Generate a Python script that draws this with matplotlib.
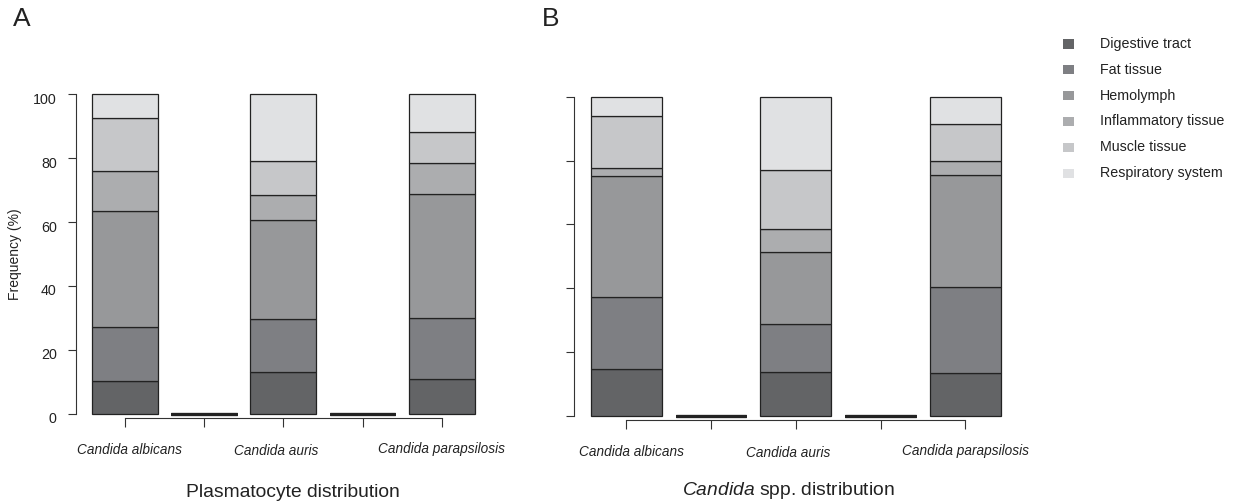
import matplotlib
matplotlib.use("Agg")
import matplotlib.pyplot as plt
from matplotlib.patches import Rectangle
from matplotlib.transforms import ScaledTranslation

plt.rcParams['font.family'] = ['Liberation Sans', 'DejaVu Sans']
plt.rcParams['mathtext.fontset'] = 'custom'
plt.rcParams['mathtext.rm'] = 'Liberation Sans'
plt.rcParams['mathtext.it'] = 'Liberation Sans:italic'

# five bar slots per panel, the 2nd and 4th are empty spacers
species = ["Candida albicans", "", "Candida auris", "", "Candida parapsilosis"]
tissues = ["Digestive tract", "Fat tissue", "Hemolymph",
           "Inflammatory tissue", "Muscle tissue", "Respiratory system"]
colors = ["#636466", "#7e7f83", "#97989a", "#acadaf", "#c6c7c9", "#e0e1e3"]

# panel A: plasmatocyte distribution (%), one list per tissue
plasma = {
    "Digestive tract":     [10.2, 0, 12.9, 0, 10.8],
    "Fat tissue":          [17.1, 0, 16.6, 0, 19.1],
    "Hemolymph":           [36.3, 0, 31.3, 0, 39.0],
    "Inflammatory tissue": [12.3, 0, 7.6, 0, 9.5],
    "Muscle tissue":       [16.6, 0, 10.6, 0, 9.9],
    "Respiratory system":  [7.5, 0, 21.0, 0, 11.7],
}
# panel B: Candida spp. distribution (%)
candida = {
    "Digestive tract":     [14.6, 0, 13.8, 0, 13.5],
    "Fat tissue":          [22.6, 0, 15.1, 0, 27.0],
    "Hemolymph":           [37.8, 0, 22.5, 0, 34.8],
    "Inflammatory tissue": [2.5, 0, 7.0, 0, 4.7],
    "Muscle tissue":       [16.6, 0, 18.6, 0, 11.4],
    "Respiratory system":  [5.9, 0, 23.0, 0, 8.6],
}

W, H = 1233, 504
fig = plt.figure(figsize=(W / 100, H / 100), dpi=100)


def px_axes(l, r, b, t):
    return fig.add_axes([l / W, 1 - b / H, (r - l) / W, (b - t) / H])


axA = px_axes(76, 480, 413.7, 94.3)
axB = px_axes(574.3, 1006, 415.7, 96.7)

# label nudges (x in data units, y in pixels below the axis)
lab_dx = [0.06, 0, -0.09, 0, 0.0]
lab_dy = [36, 0, 37, 0, 35]


def draw(ax, data, widthfrac, ticklabels):
    x = list(range(len(species)))
    totals = [sum(data[t][i] for t in tissues) for i in x]
    # empty slots show up as a heavy line on the baseline
    lws = [2.2 if tot == 0 else 0.9 for tot in totals]
    bottom = [0.0] * len(species)
    for t, c in zip(tissues, colors):
        ax.bar(x, data[t], bottom=bottom, width=widthfrac, color=c,
               edgecolor="#222222", linewidth=lws, clip_on=False)
        bottom = [b + v for b, v in zip(bottom, data[t])]
    ax.set_xlim(-0.614, 4.48)
    ax.set_ylim(0, 100)
    for s in ["top", "right"]:
        ax.spines[s].set_visible(False)
    ax.spines["left"].set_bounds(0, 100)
    ax.spines["bottom"].set_bounds(0, 4)
    ax.spines["bottom"].set_position(("outward", 3))
    for s in ["left", "bottom"]:
        ax.spines[s].set_color("#333333")
        ax.spines[s].set_linewidth(0.8)
    ax.set_xticks(x)
    ax.set_xticklabels([])
    ax.set_yticks([0, 20, 40, 60, 80, 100])
    ax.tick_params(axis="y", length=5.8, width=0.8, color="#333333",
                   labelsize=10.3, pad=8, labelcolor="#222222")
    ax.tick_params(axis="x", length=6.5, width=0.8, color="#333333")
    if not ticklabels:
        ax.set_yticklabels([])
    else:
        for lab in ax.get_yticklabels():
            lab.set_transform(lab.get_transform() +
                              ScaledTranslation(0, -0.04, fig.dpi_scale_trans))
    for i, name in enumerate(species):
        if name:
            ax.annotate(name, xy=(i + lab_dx[i], 0), xycoords="data",
                        xytext=(0, -lab_dy[i] * 0.72), textcoords="offset points",
                        ha="center", va="center", style="italic",
                        fontsize=9.8, color="#222222")


draw(axA, plasma, 0.828, True)
draw(axB, candida, 0.834, False)

axA.set_ylabel("Frequency (%)", fontsize=10, color="#222222", labelpad=8)

fig.text(293 / W, 1 - 492.5 / H, "Plasmatocyte distribution",
         ha="center", va="center", fontsize=13.9, color="#222222")
fig.text(788 / W, 1 - 490.5 / H, r"$\it{Candida}$ spp. distribution",
         ha="center", va="center", fontsize=13.9, color="#222222")

fig.text(13 / W, 1 - 19 / H, "A", ha="left", va="center", fontsize=19,
         color="#222222")
fig.text(542 / W, 1 - 19 / H, "B", ha="left", va="center", fontsize=19,
         color="#222222")

# legend as a column of square swatches
for k, (t, c) in enumerate(zip(tissues, colors)):
    yc = 44 + k * 25.8
    fig.patches.append(Rectangle(((1068 - 5.5) / W, 1 - (yc + 4.5) / H),
                                 11 / W, 9 / H, transform=fig.transFigure,
                                 facecolor=c, edgecolor="none"))
    fig.text(1100 / W, 1 - yc / H, t, ha="left", va="center", fontsize=10.3,
             color="#222222")

fig.savefig("out.png", dpi=100)
